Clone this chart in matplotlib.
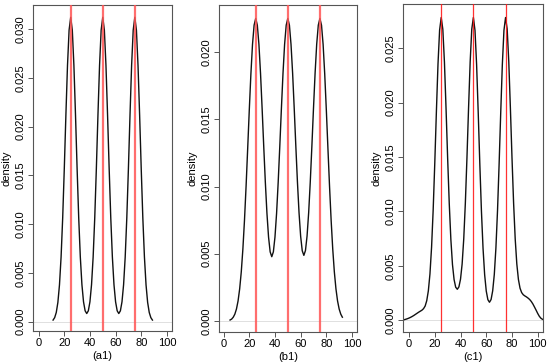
import matplotlib
matplotlib.use("Agg")
import matplotlib.pyplot as plt
import numpy as np

plt.rcParams['font.family'] = ['Liberation Sans', 'DejaVu Sans']

# ---- data ----
xa = [11.25 + 1.25 * i for i in range(63)]
ya = [0.00017, 0.00042, 0.00095, 0.00198, 0.00378, 0.00663, 0.01064, 0.01567, 0.02118, 0.02626,
      0.02989, 0.03120, 0.02989, 0.02626, 0.02118, 0.01567, 0.01064, 0.00663, 0.00380, 0.00204,
      0.00112, 0.00084, 0.00112, 0.00204, 0.00380, 0.00663, 0.01064, 0.01567, 0.02118, 0.02626,
      0.02989, 0.03120, 0.02989, 0.02626, 0.02118, 0.01567, 0.01064, 0.00663, 0.00380, 0.00204,
      0.00112, 0.00084, 0.00112, 0.00204, 0.00380, 0.00663, 0.01064, 0.01567, 0.02118, 0.02626,
      0.02989, 0.03120, 0.02989, 0.02626, 0.02118, 0.01567, 0.01064, 0.00663, 0.00378, 0.00198,
      0.00095, 0.00042, 0.00017]

xb = [5 + 1.25 * i for i in range(71)]
yb = [0.00007, 0.00014, 0.00028, 0.00051, 0.00089, 0.00149, 0.00239, 0.00365, 0.00535, 0.00749,
      0.01003, 0.01284, 0.01571, 0.01838, 0.02057, 0.02200, 0.02250, 0.02200, 0.02057, 0.01841,
      0.01578, 0.01298, 0.01031, 0.00800, 0.00624, 0.00514, 0.00478, 0.00514, 0.00624, 0.00800,
      0.01031, 0.01298, 0.01578, 0.01841, 0.02057, 0.02200, 0.02250, 0.02200, 0.02057, 0.01842,
      0.01580, 0.01300, 0.01034, 0.00804, 0.00630, 0.00522, 0.00488, 0.00524, 0.00632, 0.00806,
      0.01035, 0.01300, 0.01580, 0.01842, 0.02058, 0.02200, 0.02250, 0.02200, 0.02057, 0.01838,
      0.01571, 0.01284, 0.01003, 0.00749, 0.00535, 0.00365, 0.00239, 0.00149, 0.00089, 0.00051,
      0.00028]

xc = [-5 + 1.25 * i for i in range(89)]
yc = [0.00003, 0.00007, 0.00011, 0.00016, 0.00022, 0.00029, 0.00037, 0.00046, 0.00056, 0.00066,
      0.00076, 0.00085, 0.00094, 0.00108, 0.00132, 0.00181, 0.00272, 0.00427, 0.00671, 0.01015,
      0.01445, 0.01917, 0.02354, 0.02665, 0.02780, 0.02672, 0.02371, 0.01945, 0.01487, 0.01071,
      0.00742, 0.00513, 0.00375, 0.00305, 0.00286, 0.00308, 0.00379, 0.00518, 0.00747, 0.01076,
      0.01492, 0.01950, 0.02374, 0.02674, 0.02780, 0.02662, 0.02348, 0.01909, 0.01436, 0.01005,
      0.00662, 0.00420, 0.00270, 0.00191, 0.00167, 0.00192, 0.00272, 0.00422, 0.00664, 0.01007,
      0.01437, 0.01909, 0.02348, 0.02662, 0.02780, 0.02675, 0.02376, 0.01952, 0.01494, 0.01078,
      0.00748, 0.00518, 0.00376, 0.00296, 0.00256, 0.00236, 0.00225, 0.00216, 0.00205, 0.00192,
      0.00174, 0.00151, 0.00123, 0.00094, 0.00064, 0.00038, 0.00020, 0.00010, 0.00005]

vlines = [25, 50, 75]
labels = ['(a1)', '(b1)', '(c1)']
xticks = [0, 20, 40, 60, 80, 100]
yticks_a = [0.000, 0.005, 0.010, 0.015, 0.020, 0.025, 0.030]
yticks_b = [0.000, 0.005, 0.010, 0.015, 0.020]
yticks_c = [0.000, 0.005, 0.010, 0.015, 0.020, 0.025]

fig = plt.figure(figsize=(5.5, 3.64), dpi=100)

panels = [
    dict(x=xa, y=ya, yt=yticks_a, rect=[33/550, 33/364, 139/550, 326/364],
         xlim=(-4.4, 104.0), ylim=(-0.00095, 0.03246), vcol='#ff5555', vlw=1.6, valpha=0.85),
    dict(x=xb, y=yb, yt=yticks_b, rect=[219/550, 32/364, 138/550, 327/364],
         xlim=(-3.6, 103.9), ylim=(-0.00082, 0.0235), vcol='#ff5555', vlw=1.6, valpha=0.85),
    dict(x=xc, y=yc, yt=yticks_c, rect=[403/550, 32/364, 140/550, 328/364],
         xlim=(-4.7, 104.1), ylim=(-0.00106, 0.02904), vcol='#ff1a1a', vlw=0.9, valpha=0.9),
]

for p, lab in zip(panels, labels):
    ax = fig.add_axes(p['rect'])
    ax.axhline(0, color='#e0e0e0', lw=0.7, zorder=1)
    ax.plot(p['x'], p['y'], color='#111111', lw=1.0, zorder=2)
    for v in vlines:
        ax.axvline(v, color=p['vcol'], lw=p['vlw'], alpha=p['valpha'], zorder=3)
    ax.set_xlim(*p['xlim'])
    ax.set_ylim(*p['ylim'])
    ax.set_xticks(xticks)
    ax.set_xticklabels([str(t) for t in xticks])
    ax.set_yticks(p['yt'])
    ax.set_yticklabels([f'{t:.3f}' for t in p['yt']], rotation=90, va='center')
    for s in ax.spines.values():
        s.set_color('#555555')
        s.set_linewidth(0.8)
    ax.tick_params(direction='out', length=3.5, width=0.7, color='#555555',
                   labelsize=8, pad=1.5)
    ax.set_xlabel(lab, fontsize=8, labelpad=2)
    ax.set_ylabel('density', fontsize=8, labelpad=3)

fig.savefig('out.png', dpi=100)
